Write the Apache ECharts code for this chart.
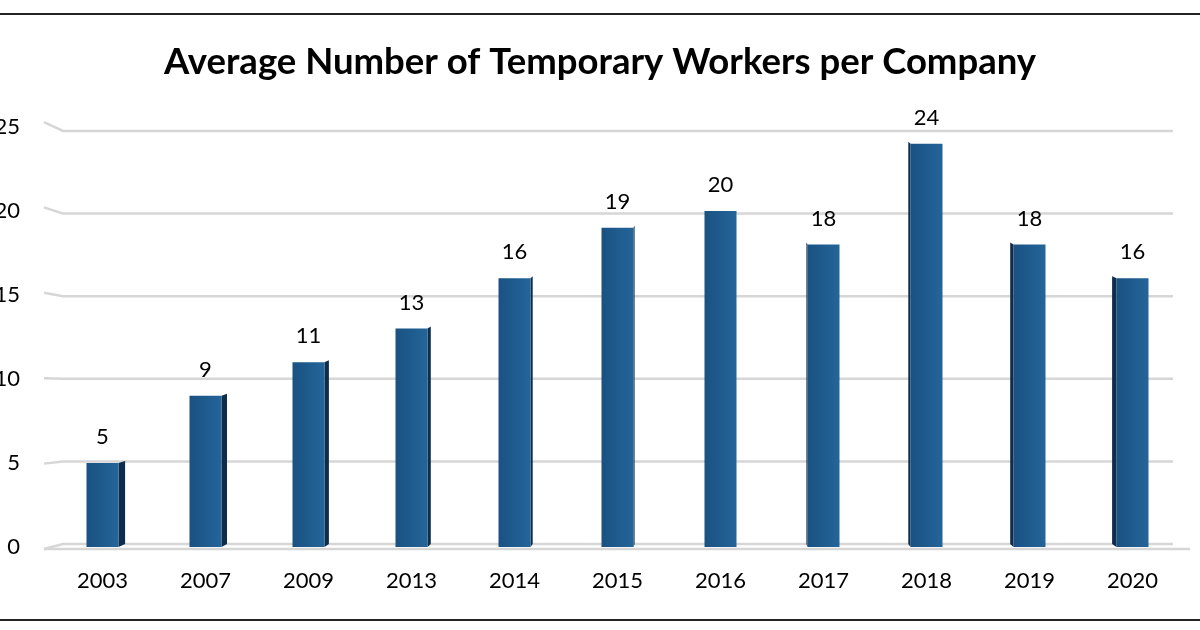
<!DOCTYPE html>
<html>
<head>
<meta charset="utf-8">
<script src="https://cdn.jsdelivr.net/npm/echarts@6/dist/echarts.min.js"></script>
<style>
  html, body { margin: 0; padding: 0; background: #fff; }
  #main { width: 1200px; height: 630px; }
</style>
</head>
<body>
<div id="main"></div>
<script>
// 数据
var years = ['2003', '2007', '2009', '2013', '2014', '2015', '2016', '2017', '2018', '2019', '2020'];
var workers = [5, 9, 11, 13, 16, 19, 20, 18, 24, 18, 16];
var yTicks = [0, 5, 10, 15, 20, 25];

var FONT = 'Lato, "Open Sans", sans-serif';

// 3D柱子：正面 + 侧面
function renderBar(params, api) {
    var idx = api.value(0);
    var top = api.coord([idx, api.value(1)]);
    var base = api.coord([idx, 0]);
    var bw = 32;
    var x0 = top[0] - bw / 2, x1 = top[0] + bw / 2;
    var s = (6 - idx) * 1.1;   // 以2016为视点中心
    var side;
    if (s > 0) {
        side = [[x1, top[1]], [x1 + s, top[1] - 2], [x1 + s, base[1] - 3], [x1, base[1]]];
    } else {
        side = [[x0, top[1]], [x0 + s, top[1] - 2], [x0 + s, base[1] - 3], [x0, base[1]]];
    }
    var children = [];
    if (Math.abs(s) > 0.5) {
        children.push({ type: 'polygon', shape: { points: side }, style: { fill: '#0f2d4b' } });
    }
    children.push({
        type: 'rect',
        shape: { x: x0, y: top[1], width: bw, height: base[1] - top[1] },
        style: {
            fill: new echarts.graphic.LinearGradient(0, 0, 1, 0, [
                { offset: 0, color: '#1a5182' },
                { offset: 1, color: '#246599' }
            ])
        }
    });
    children.push({
        type: 'text',
        style: {
            text: String(api.value(1)), x: top[0], y: top[1] - 26,
            align: 'center', verticalAlign: 'middle',
            fontSize: 22, fontFamily: FONT, fill: '#000'
        }
    });
    return { type: 'group', children: children };
}

// 背景网格线（带透视斜角）
function renderGrid(params, api) {
    var v = api.value(0);
    var a = api.coord([0, v]);
    var b = api.coord([1, v]);
    var dy = (396 - a[1]) * 0.0339;
    var lineStyle = { stroke: '#d6d6d6', lineWidth: 2.5, fill: null };
    var children = [{
        type: 'polyline',
        shape: { points: [[a[0] - 19, a[1] - dy], [a[0], a[1]], [b[0], b[1]]] },
        style: lineStyle
    }];
    if (v === 0) {
        children.push({
            type: 'line',
            shape: { x1: a[0] - 19, y1: a[1] - dy, x2: b[0] + 17, y2: a[1] - dy },
            style: lineStyle
        });
    }
    return { type: 'group', children: children };
}

var myChart = echarts.init(document.getElementById('main'));

var option = {
    animation: false,
    title: {
        text: 'Average Number of Temporary Workers per Company',
        left: 'center',
        top: 39,
        textStyle: { fontFamily: FONT, fontWeight: 'bold', fontSize: 36.5, color: '#000' }
    },
    graphic: [
        { type: 'line', shape: { x1: 0, y1: 14, x2: 1200, y2: 14 }, style: { stroke: '#222', lineWidth: 2 } },
        { type: 'line', shape: { x1: 0, y1: 620, x2: 1200, y2: 620 }, style: { stroke: '#222', lineWidth: 2 } }
    ],
    grid: [
        { left: 51, right: 16, top: 127, bottom: 83, outerBoundsMode: 'none', containLabel: false },
        { left: 63, right: 27, top: 131, bottom: 86, outerBoundsMode: 'none', containLabel: false }
    ],
    xAxis: [
        {
            type: 'category', gridIndex: 0, data: years,
            axisLine: { show: false }, axisTick: { show: false },
            axisLabel: { fontSize: 22, fontFamily: FONT, color: '#000', margin: 23 }
        },
        { type: 'value', gridIndex: 1, min: 0, max: 1, show: false }
    ],
    yAxis: [
        {
            type: 'value', gridIndex: 0, min: 0, max: 25, interval: 5,
            axisLine: { show: false }, axisTick: { show: false }, splitLine: { show: false },
            axisLabel: { fontSize: 22, fontFamily: FONT, color: '#000', margin: 31 }
        },
        { type: 'value', gridIndex: 1, min: 0, max: 25, interval: 5, show: false }
    ],
    series: [
        {
            type: 'custom', xAxisIndex: 1, yAxisIndex: 1, z: 1,
            renderItem: renderGrid,
            data: yTicks.map(function (v) { return [v]; })
        },
        {
            type: 'custom', xAxisIndex: 0, yAxisIndex: 0, z: 2,
            renderItem: renderBar,
            data: workers.map(function (v, i) { return [i, v]; })
        }
    ]
};

myChart.setOption(option);
</script>
</body>
</html>
